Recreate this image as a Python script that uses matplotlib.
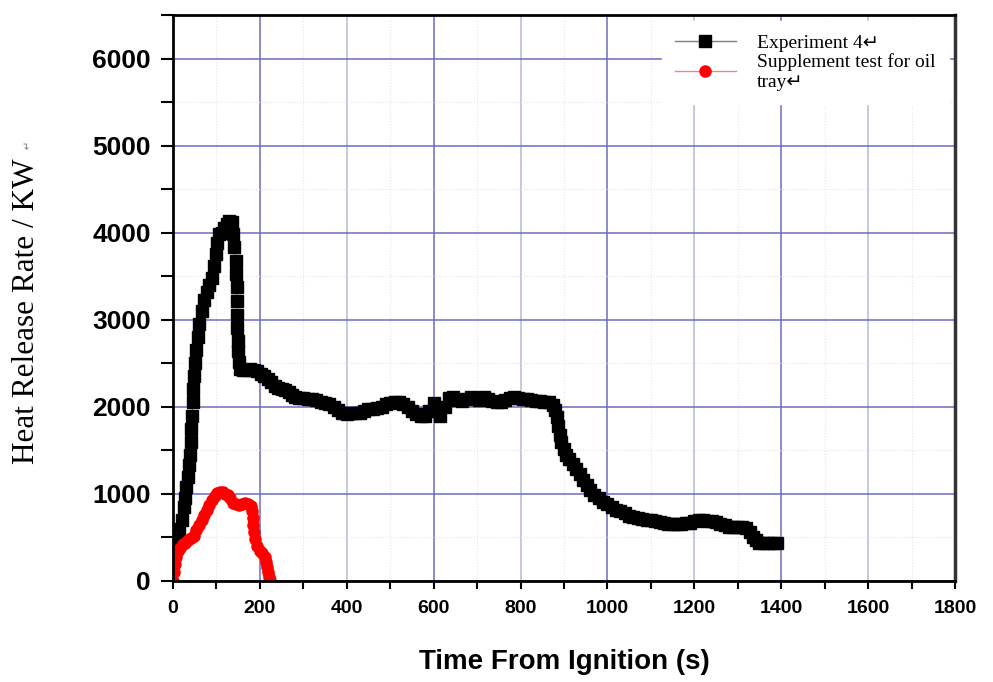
import numpy as np
import matplotlib.pyplot as plt
from matplotlib.ticker import MultipleLocator

# Experiment 4 (black squares)
t_exp4 = [0, 5, 10, 15, 20, 25, 28, 31, 34, 37, 39, 41, 42, 44, 45, 47, 49, 51, 54, 57,
          61, 66, 72, 78, 84, 90, 95, 98, 101, 106, 112, 118, 124, 130, 135, 138, 141, 144, 146, 147,
          147, 148, 148, 149, 150, 152, 155, 162, 170, 178, 186, 194, 202, 210, 218, 226, 234, 242, 250, 258,
          266, 274, 282, 290, 300, 310, 320, 330, 340, 350, 360, 370, 380, 390, 400, 410, 420, 430, 440, 450,
          460, 470, 480, 490, 500, 510, 520, 530, 540, 550, 560, 570, 580, 590, 600, 610, 615, 625, 635, 645,
          655, 665, 675, 685, 695, 705, 715, 725, 735, 745, 755, 765, 775, 785, 795, 805, 815, 825, 835, 845,
          855, 865, 875, 880, 884, 887, 890, 894, 899, 905, 912, 920, 928, 936, 944, 952, 960, 970, 980, 990,
          1000, 1010, 1020, 1030, 1040, 1050, 1060, 1070, 1080, 1090, 1100, 1110, 1120, 1130, 1140, 1150, 1160, 1170, 1180, 1190,
          1200, 1210, 1220, 1230, 1240, 1250, 1260, 1270, 1280, 1290, 1300, 1310, 1320, 1328, 1335, 1342, 1350, 1360, 1370, 1380,
          1390]
q_exp4 = [380, 450, 520, 600, 700, 850, 950, 1080, 1200, 1330, 1450, 1600, 1750, 1900, 2050, 2200, 2350, 2500, 2650, 2800,
          2950, 3100, 3230, 3320, 3400, 3480, 3620, 3750, 3880, 3980, 4000, 4050, 4100, 4130, 4120, 3980, 3830, 3680, 3530, 3380,
          3220, 3060, 2900, 2760, 2640, 2520, 2440, 2420, 2420, 2430, 2420, 2410, 2380, 2350, 2320, 2280, 2240, 2220, 2210, 2190,
          2170, 2140, 2110, 2100, 2100, 2090, 2090, 2080, 2060, 2040, 2030, 2000, 1960, 1930, 1920, 1930, 1930, 1930, 1950, 1970,
          1980, 1990, 2000, 2030, 2040, 2050, 2050, 2030, 2000, 1950, 1920, 1890, 1900, 1950, 2040, 1950, 1900, 2000, 2100, 2110,
          2080, 2070, 2090, 2110, 2100, 2080, 2110, 2090, 2070, 2050, 2060, 2080, 2100, 2110, 2100, 2090, 2090, 2080, 2070, 2070,
          2060, 2050, 2020, 1960, 1880, 1780, 1680, 1600, 1520, 1450, 1400, 1340, 1290, 1230, 1160, 1100, 1050, 990, 950, 910,
          880, 850, 820, 800, 780, 750, 730, 720, 710, 700, 700, 690, 680, 670, 660, 660, 660, 660, 665, 670,
          690, 700, 700, 690, 690, 680, 660, 640, 620, 620, 620, 620, 610, 560, 510, 470, 440, 435, 435, 435,
          440]

# Supplement test for oil tray (red circles)
t_oil = [0, 2, 4, 7, 11, 16, 22, 28, 35, 42, 48, 54, 60, 66, 72, 78, 84, 90, 96, 102,
         108, 114, 120, 126, 132, 138, 145, 152, 159, 166, 173, 179, 183, 184, 185, 187, 189, 194, 200, 206,
         211, 214, 216, 218, 221, 224]
q_oil = [0, 100, 200, 280, 340, 380, 420, 440, 470, 490, 520, 580, 640, 700, 760, 810, 870, 930, 980, 1010,
         1020, 1020, 1000, 990, 950, 900, 880, 870, 880, 890, 880, 860, 800, 720, 640, 560, 480, 400, 350, 320,
         280, 220, 160, 100, 50, 10]

fig = plt.figure(figsize=(9.93, 6.82), dpi=100)
ax = fig.add_axes([0.1742, 0.1481, 0.7875, 0.8299])

ax.plot(t_exp4, q_exp4, color='#808080', linewidth=1, marker='s', markersize=8,
        markerfacecolor='black', markeredgecolor='black', label='Experiment 4\u21b5')
ax.plot(t_oil, q_oil, color='#e08a8a', linewidth=1, marker='o', markersize=8,
        markerfacecolor='#ff0000', markeredgecolor='#ff0000', label='Supplement test for oil\ntray\u21b5')

ax.set_xlim(0, 1800)
ax.set_ylim(0, 6500)
ax.xaxis.set_major_locator(MultipleLocator(200))
ax.xaxis.set_minor_locator(MultipleLocator(100))
ax.yaxis.set_major_locator(MultipleLocator(1000))
ax.yaxis.set_minor_locator(MultipleLocator(500))

# grid
ax.set_axisbelow(True)
ax.grid(which='major', color='#6b6bc4', linewidth=1.1)
ax.grid(which='minor', color='#e4e4ee', linewidth=0.8, linestyle=':')

for s in ['left', 'bottom', 'top']:
    ax.spines[s].set_linewidth(2)
    ax.spines[s].set_color('black')
ax.spines['right'].set_linewidth(2.5)
ax.spines['right'].set_color('#333333')

ax.tick_params(axis='y', which='both', direction='out', length=9, width=1.5, pad=7)
ax.tick_params(axis='x', which='both', direction='out', length=6, width=1.5, pad=8)
for lab in ax.get_yticklabels():
    lab.set_fontfamily('Liberation Sans')
    lab.set_fontweight('bold')
    lab.set_fontsize(19)
for lab in ax.get_xticklabels():
    lab.set_fontfamily('Liberation Sans')
    lab.set_fontweight('bold')
    lab.set_fontsize(14)

ax.set_xlabel('Time From Ignition (s)', family='Liberation Sans', fontweight='bold', fontsize=20)
ax.xaxis.set_label_coords(0.5, -0.12)
ax.set_ylabel('Heat Release Rate / KW', family='Liberation Serif', fontsize=22.5)
ax.yaxis.set_label_coords(-0.169, 0.477)
ax.text(-0.186, 0.77, '\u21b5', transform=ax.transAxes, rotation=90, fontsize=7,
        color='#777777', ha='center', va='center')

leg = ax.legend(loc='upper right', bbox_to_anchor=(1.0, 1.0), frameon=True, fancybox=False,
                edgecolor='white', facecolor='white', framealpha=1,
                prop={'family': ['Liberation Serif', 'DejaVu Sans'], 'size': 14},
                handlelength=3.1, handletextpad=1.1, labelspacing=0.05, borderpad=0.7,
                borderaxespad=0.3)

# lighter vertical grid at 400, 800, 1200, 1600
fig.canvas.draw()
for tick in ax.xaxis.get_major_ticks():
    loc = tick.get_loc()
    if loc is not None and round(loc) % 400 == 0:
        tick.gridline.set_color('#b8b8d8')

plt.savefig('out.png', dpi=100)
